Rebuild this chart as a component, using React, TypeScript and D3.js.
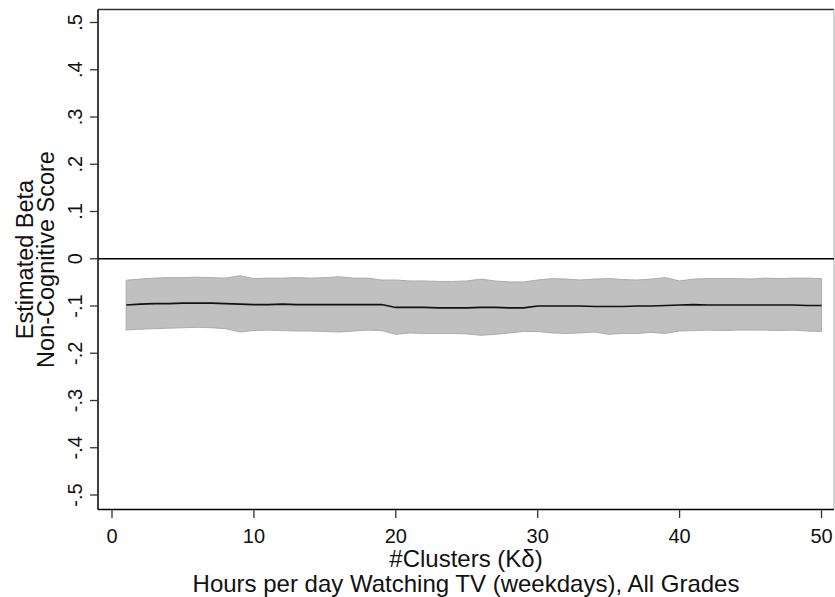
import React from "react";
import * as d3 from "d3";

const clusters = d3.range(1, 51);
const betaMean = [
  -0.098, -0.096, -0.095, -0.095, -0.094, -0.094, -0.094, -0.095, -0.096, -0.097,
  -0.097, -0.096, -0.097, -0.097, -0.097, -0.097, -0.097, -0.097, -0.097, -0.103,
  -0.103, -0.103, -0.104, -0.104, -0.104, -0.103, -0.103, -0.104, -0.104, -0.100,
  -0.100, -0.100, -0.100, -0.101, -0.101, -0.101, -0.100, -0.100, -0.099, -0.098,
  -0.097, -0.098, -0.098, -0.098, -0.098, -0.098, -0.098, -0.098, -0.099, -0.099,
];
const betaUpper = [
  -0.0455, -0.043, -0.041, -0.040, -0.040, -0.039, -0.040, -0.041, -0.036, -0.042,
  -0.041, -0.041, -0.040, -0.041, -0.040, -0.038, -0.041, -0.041, -0.045, -0.045,
  -0.047, -0.047, -0.048, -0.048, -0.047, -0.043, -0.047, -0.049, -0.049, -0.045,
  -0.042, -0.043, -0.045, -0.043, -0.042, -0.044, -0.045, -0.043, -0.040, -0.047,
  -0.043, -0.042, -0.042, -0.042, -0.043, -0.041, -0.042, -0.041, -0.041, -0.042,
];
const betaLower = [
  -0.151, -0.149, -0.148, -0.147, -0.146, -0.145, -0.146, -0.148, -0.155, -0.152,
  -0.151, -0.152, -0.153, -0.153, -0.154, -0.155, -0.153, -0.151, -0.152, -0.160,
  -0.157, -0.158, -0.158, -0.158, -0.159, -0.162, -0.160, -0.157, -0.154, -0.154,
  -0.157, -0.158, -0.157, -0.155, -0.160, -0.158, -0.158, -0.156, -0.158, -0.153,
  -0.152, -0.151, -0.152, -0.151, -0.151, -0.151, -0.152, -0.151, -0.153, -0.154,
];
const xTicks = [0, 10, 20, 30, 40, 50];
const yTicks = [-0.5, -0.4, -0.3, -0.2, -0.1, 0, 0.1, 0.2, 0.3, 0.4, 0.5];
const xTitle = "#Clusters (Kδ)";
const subTitle = "Hours per day Watching TV (weekdays), All Grades";
const yTitle1 = "Estimated Beta";
const yTitle2 = "Non-Cognitive Score";

const W = 835;
const H = 597;
const frame = { left: 98, right: 834, top: 9.5, bottom: 509.5 };

const fmtY = (v: number) => {
  if (v === 0) return "0";
  const s = Math.abs(v).toFixed(1).replace(/^0/, "");
  return (v < 0 ? "-" : "") + s;
};

export default function App() {
  const x = d3.scaleLinear().domain([0, 50]).range([112, 821.5]);
  const y = d3.scaleLinear().domain([-0.5, 0.5]).range([495, 22.5]);

  const rows = clusters.map((c, i) => ({ c, m: betaMean[i], lo: betaLower[i], hi: betaUpper[i] }));
  const area = d3
    .area<any>()
    .x((d) => x(d.c))
    .y0((d) => y(d.lo))
    .y1((d) => y(d.hi));
  const line = d3
    .line<any>()
    .x((d) => x(d.c))
    .y((d) => y(d.m));

  const font = "'Liberation Sans', Arial, sans-serif";
  const cx = (frame.left + frame.right) / 2;
  const cy = (frame.top + frame.bottom) / 2;

  return (
    <svg
      width={W}
      height={H}
      style={{ position: "absolute", left: 0, top: 0, background: "#fff" }}
      fontFamily={font}
    >
      <rect x={0} y={0} width={W} height={H} fill="#fff" />
      {/* frame top/right */}
      <line x1={frame.left} x2={frame.right} y1={frame.top} y2={frame.top} stroke="#333" strokeWidth={1.5} />
      <line x1={frame.right} x2={frame.right} y1={frame.top} y2={frame.bottom} stroke="#aaa" strokeWidth={1} />

      {/* band */}
      <path d={area(rows) || ""} fill="#c0c0c0" stroke="#acacac" strokeWidth={1} />
      <path d={line(rows) || ""} fill="none" stroke="#111" strokeWidth={1.6} />

      {/* zero line */}
      <line x1={frame.left} x2={frame.right} y1={y(0)} y2={y(0)} stroke="#000" strokeWidth={1.4} />

      {/* axes */}
      <line x1={frame.left} x2={frame.left} y1={frame.top} y2={frame.bottom} stroke="#000" strokeWidth={1.5} />
      <line x1={frame.left} x2={frame.right} y1={frame.bottom} y2={frame.bottom} stroke="#000" strokeWidth={1.5} />

      {yTicks.map((t) => (
        <g key={"y" + t}>
          <line x1={90} x2={frame.left} y1={y(t)} y2={y(t)} stroke="#333" strokeWidth={1.3} />
          <text
            transform={`translate(82,${y(t)}) rotate(-90)`}
            textAnchor="middle"
            fontSize={20}
            fill="#111"
          >
            {fmtY(t)}
          </text>
        </g>
      ))}

      {xTicks.map((t) => (
        <g key={"x" + t}>
          <line x1={x(t)} x2={x(t)} y1={frame.bottom} y2={518} stroke="#333" strokeWidth={1.3} />
          <text x={x(t)} y={543} textAnchor="middle" fontSize={20} fill="#111">
            {t}
          </text>
        </g>
      ))}

      <text x={cx} y={567} textAnchor="middle" fontSize={24} fill="#111">
        {xTitle}
      </text>
      <text x={cx} y={592} textAnchor="middle" fontSize={24} fill="#111">
        {subTitle}
      </text>

      <text transform={`translate(33,${cy}) rotate(-90)`} textAnchor="middle" fontSize={23.5} fill="#111">
        {yTitle1}
      </text>
      <text transform={`translate(54,${cy}) rotate(-90)`} textAnchor="middle" fontSize={23.5} fill="#111">
        {yTitle2}
      </text>
    </svg>
  );
}
